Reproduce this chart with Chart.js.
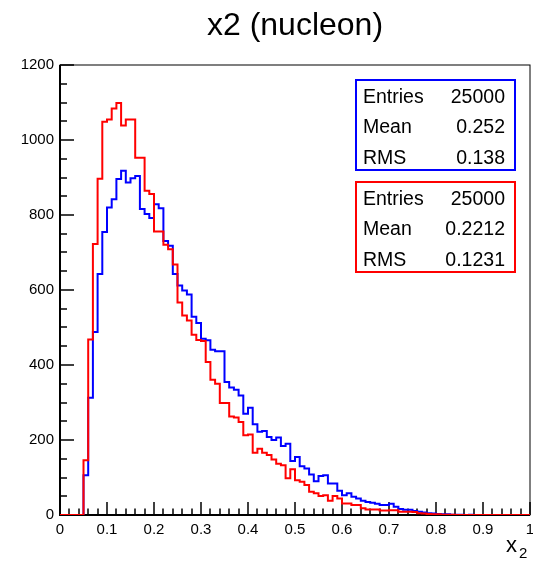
<!DOCTYPE html>
<html><head><meta charset="utf-8">
<script src="https://cdn.jsdelivr.net/npm/chart.js@4.4.1/dist/chart.umd.min.js"></script>
<style>html,body{margin:0;padding:0;background:#fff}canvas{display:block}</style>
</head><body>
<canvas id="c" width="533" height="563"></canvas>
<script>
// ---- data ----
const chartTitle = 'x2 (nucleon)';
const xAxisLabel = 'x';
const xAxisSubscript = '2';
const xMin = 0, xMax = 1, binCount = 100;
const binLow = Array.from({length: binCount}, (_, i) => xMin + i * (xMax - xMin) / binCount);
const xTickLabels = ['0','0.1','0.2','0.3','0.4','0.5','0.6','0.7','0.8','0.9','1'];
const yTickLabels = ['0','200','400','600','800','1000','1200'];

const blueCounts = [
  0,0,0,0,0,106,313,488,643,755,
  820,842,896,918,887,898,904,816,803,792,
  829,818,731,718,643,612,599,588,529,512,
  470,466,441,437,437,355,340,334,319,270,
  286,242,222,224,208,200,207,184,190,144,
  155,130,124,108,90,104,106,84,84,65,
  53,58,49,44,38,35,33,30,27,27,
  30,22,16,14,14,11,9,7,5,4,
  3,2,2,1,1,1,0,1,0,0,
  0,0,0,0,0,0,0,0,0,0
];
const redCounts = [
  0,0,0,0,0,146,468,723,897,1049,
  1055,1084,1099,1039,1055,1055,953,953,865,856,
  756,756,721,709,668,567,532,519,481,467,
  464,408,361,350,299,299,263,260,248,213,
  215,166,177,166,160,148,137,133,98,122,
  93,89,80,62,58,51,53,38,51,44,
  31,31,27,27,18,15,15,15,12,12,
  13,13,9,9,9,8,5,4,3,2,
  2,1,1,1,0,0,0,0,0,0,
  0,0,0,0,0,0,0,0,0,0
];
const statLabels = ['Entries','Mean','RMS'];
const blueStats = ['25000','0.252','0.138'];
const redStats = ['25000','0.2212','0.1231'];

const BLUE = '#0000ff', RED = '#ff0000';
const FONT = '"Liberation Sans", Arial, Helvetica, sans-serif';

function histPoints(counts){
  const pts = binLow.map((x, i) => ({x, y: counts[i]}));
  pts.push({x: xMax, y: 0});
  return pts;
}

const rootDecor = {
  id: 'rootDecor',
  beforeDatasetsDraw(chart){
    const {ctx, chartArea: a, scales: {x, y}} = chart;
    ctx.save();
    ctx.strokeStyle = '#000';
    ctx.lineWidth = 1;
    ctx.strokeRect(a.left, a.top, a.right - a.left, a.bottom - a.top);
    ctx.lineWidth = 2;
    ctx.beginPath();
    ctx.moveTo(a.left, a.top); ctx.lineTo(a.left, a.bottom); ctx.lineTo(a.right, a.bottom);
    ctx.stroke();
    ctx.lineWidth = 1.5;
    ctx.beginPath();
    for (let i = 0; i <= 50; i++) {
      const px = Math.round(x.getPixelForValue(xMin + i * (xMax - xMin) / 50));
      const len = (i % 5 === 0) ? 13 : 6.5;
      ctx.moveTo(px, a.bottom); ctx.lineTo(px, a.bottom - len);
    }
    for (let v = 0; v <= 1200; v += 50) {
      const py = Math.round(y.getPixelForValue(v));
      const len = (v % 200 === 0) ? 14 : 7;
      ctx.moveTo(a.left, py); ctx.lineTo(a.left + len, py);
    }
    ctx.stroke();
    ctx.restore();
  },
  afterDraw(chart){
    const {ctx, chartArea: a} = chart;
    ctx.save();
    ctx.fillStyle = '#000';
    ctx.font = '32px ' + FONT;
    ctx.textAlign = 'center';
    ctx.textBaseline = 'alphabetic';
    ctx.fillText(chartTitle, (a.left + a.right) / 2, 35);
    ctx.textAlign = 'left';
    ctx.font = '22px ' + FONT;
    ctx.fillText(xAxisLabel, 506, 552);
    ctx.font = '15px ' + FONT;
    ctx.fillText(xAxisSubscript, 519, 558);
    const boxes = [
      {color: BLUE, top: 80, vals: blueStats},
      {color: RED, top: 182, vals: redStats}
    ];
    boxes.forEach(b => {
      ctx.fillStyle = '#fff';
      ctx.fillRect(356, b.top, 159, 90);
      ctx.strokeStyle = b.color;
      ctx.lineWidth = 2;
      ctx.strokeRect(356, b.top, 159, 90);
      ctx.fillStyle = '#000';
      ctx.font = '19.5px ' + FONT;
      statLabels.forEach((lab, i) => {
        const base = b.top + 22.5 + i * 30.5;
        ctx.textAlign = 'left';
        ctx.fillText(lab, 363, base);
        ctx.textAlign = 'right';
        ctx.fillText(b.vals[i], 505, base);
      });
    });
    ctx.restore();
  }
};

new Chart(document.getElementById('c'), {
  type: 'line',
  data: {
    datasets: [
      {label: 'red', data: histPoints(redCounts), borderColor: RED, borderWidth: 2,
       stepped: 'before', pointRadius: 0, fill: false, tension: 0},
      {label: 'blue', data: histPoints(blueCounts), borderColor: BLUE, borderWidth: 2,
       stepped: 'before', pointRadius: 0, fill: false, tension: 0}
    ]
  },
  options: {
    responsive: false,
    animation: false,
    devicePixelRatio: 1,
    layout: {padding: {top: 65, right: 3, left: 0, bottom: 0}},
    plugins: {legend: {display: false}, tooltip: {enabled: false}, title: {display: false}},
    scales: {
      x: {
        type: 'linear', min: xMin, max: xMax,
        grid: {display: false, drawTicks: false},
        border: {display: false},
        afterFit: s => { s.height = 48; s.paddingLeft = 0; s.paddingRight = 0; },
        ticks: {
          stepSize: 0.1, autoSkip: false, maxRotation: 0, padding: 6,
          color: '#000', font: {family: FONT, size: 15},
          callback: v => xTickLabels[Math.round(v * 10)]
        }
      },
      y: {
        min: 0, max: 1200,
        grid: {display: false, drawTicks: false},
        border: {display: false},
        afterFit: s => { s.width = 60; s.paddingTop = 0; s.paddingBottom = 0; },
        ticks: {
          stepSize: 200, padding: 6,
          color: '#000', font: {family: FONT, size: 15},
          callback: v => yTickLabels[Math.round(v / 200)]
        }
      }
    }
  },
  plugins: [rootDecor]
});
</script>
</body></html>
